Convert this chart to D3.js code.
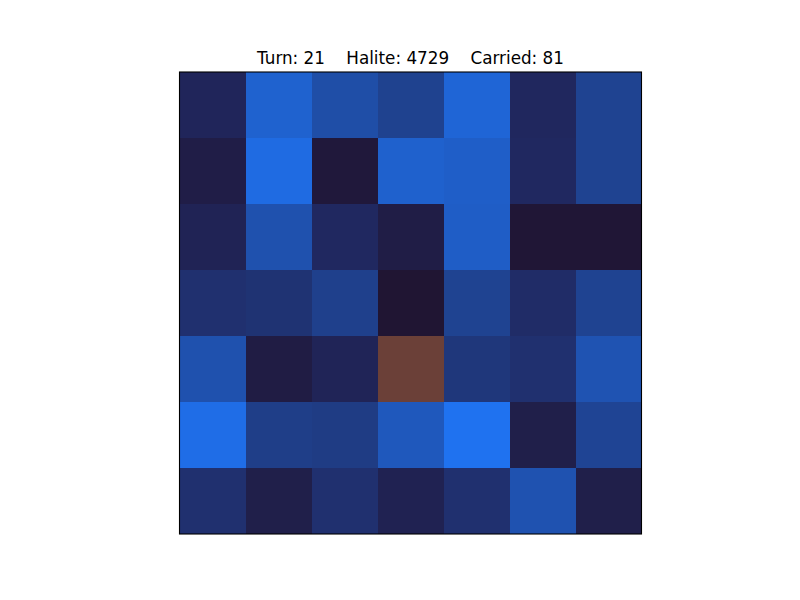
<!DOCTYPE html>
<html>
<head>
<meta charset="utf-8">
<script src="https://cdn.jsdelivr.net/npm/d3@7"></script>
<style>
  html, body { margin: 0; padding: 0; background: #ffffff; }
  svg { display: block; }
</style>
</head>
<body>
<svg id="chart" width="800" height="600"></svg>
<script>
// Grid values (relative halite amount per cell, 0..100), row by row from top
const row0 = [25, 86, 67, 53, 89, 27, 54];
const row1 = [13, 94, 5, 85, 83, 28, 54];
const row2 = [22, 71, 28, 12, 82, 2, 2];
const row3 = [36, 38, 51, 0, 54, 32, 54];
const row4 = [71, 11, 23, 0, 42, 36, 73];
const row5 = [96, 49, 47, 78, 100, 15, 56];
const row6 = [36, 15, 36, 20, 36, 72, 15];
const gridRows = [row0, row1, row2, row3, row4, row5, row6];
// Cells occupied by a ship (row, col)
const shipRows = [4];
const shipCols = [3];
const turn = 21;
const halite = 4729;
const carried = 81;

const svg = d3.select("#chart");
const plotLeft = 179.5, plotTop = 72, plotSize = 462;
const n = 7;

const x = d3.scaleBand().domain(d3.range(n)).range([plotLeft, plotLeft + plotSize]).padding(0);
const y = d3.scaleBand().domain(d3.range(n)).range([plotTop, plotTop + plotSize]).padding(0);

const color = d3.scaleLinear()
  .domain([0, 25, 50, 75, 100])
  .range(["#201533", "#20255a", "#1f3f8a", "#1f55b5", "#1f72f0"])
  .clamp(true);

const cells = [];
gridRows.forEach((r, i) => r.forEach((v, j) => cells.push({ r: i, c: j, v })));
const isShip = d => shipRows.some((sr, k) => sr === d.r && shipCols[k] === d.c);

svg.append("g").selectAll("rect").data(cells).enter().append("rect")
  .attr("x", d => Math.round(x(d.c)))
  .attr("y", d => Math.round(y(d.r)))
  .attr("width", d => Math.round(x(d.c) + x.bandwidth()) - Math.round(x(d.c)))
  .attr("height", d => Math.round(y(d.r) + y.bandwidth()) - Math.round(y(d.r)))
  .attr("fill", d => isShip(d) ? "#6b4038" : color(d.v))
  .attr("shape-rendering", "crispEdges");

svg.append("rect")
  .attr("x", plotLeft).attr("y", plotTop)
  .attr("width", plotSize).attr("height", plotSize)
  .attr("fill", "none").attr("stroke", "#000").attr("stroke-width", 1.1);

svg.append("text")
  .attr("x", plotLeft + plotSize / 2).attr("y", 64)
  .attr("text-anchor", "middle")
  .style("white-space", "pre")
  .attr("xml:space", "preserve")
  .style("font-family", "DejaVu Sans")
  .style("font-size", "16.8px")
  .attr("fill", "#000")
  .text(`Turn: ${turn}    Halite: ${halite}    Carried: ${carried}`);
</script>
</body>
</html>
